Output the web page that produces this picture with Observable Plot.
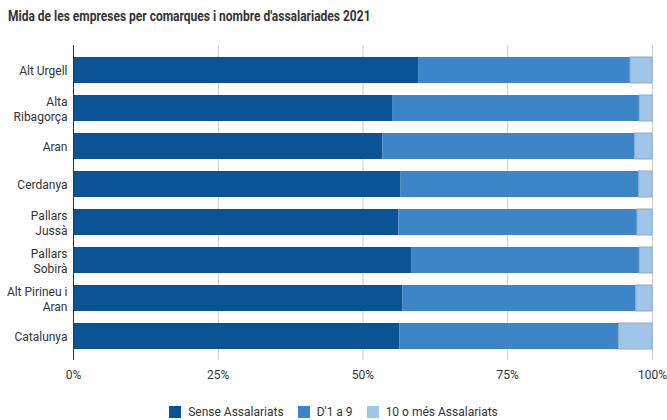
<!DOCTYPE html>
<html>
<head>
<meta charset="utf-8">
<script src="https://cdn.jsdelivr.net/npm/d3@7"></script>
<script src="https://cdn.jsdelivr.net/npm/@observablehq/plot@0.6"></script>
<style>
  body { margin: 0; background: #fff; font-family: Roboto, sans-serif; overflow: hidden; }
  #title { height: 36px; box-sizing: border-box; padding: 7px 0 0 8px; font-size: 15px; font-weight: bold; color: #333; white-space: nowrap; }
  #title span { display: inline-block; transform: scaleX(0.80); transform-origin: left center; }
  #chart svg { display: block; }
  #legend { display: flex; justify-content: center; align-items: center; font-size: 12px; line-height: 14px; color: #333; height: 18px; margin-top: 7px; }
  .item { display: flex; align-items: center; margin: 0 7px; }
  .sw { width: 12px; height: 12px; margin-right: 7px; }
</style>
</head>
<body>
<div id="title"><span>Mida de les empreses per comarques i nombre d'assalariades 2021</span></div>
<div id="chart"></div>
<div id="legend"></div>
<script>
const categories = ["Alt Urgell", "Alta Ribagorça", "Aran", "Cerdanya", "Pallars Jussà", "Pallars Sobirà", "Alt Pirineu i Aran", "Catalunya"];
const tickLabels = ["Alt Urgell", "Alta\nRibagorça", "Aran", "Cerdanya", "Pallars\nJussà", "Pallars\nSobirà", "Alt Pirineu i\nAran", "Catalunya"];
const series = ["Sense Assalariats", "D'1 a 9", "10 o més Assalariats"];
const senseAssalariats = [59.6, 55.1, 53.4, 56.5, 56.2, 58.4, 56.9, 56.4];
const d1a9 = [36.6, 42.7, 43.6, 41.2, 41.2, 39.4, 40.3, 37.8];
const deuOMes = [3.8, 2.2, 3.0, 2.3, 2.6, 2.2, 2.8, 5.8];
const colors = ["#0b5394", "#3d85c6", "#9fc5e8"];
const xTicks = [0, 0.25, 0.5, 0.75, 1];

const valuesBySeries = [senseAssalariats, d1a9, deuOMes];
const data = [];
series.forEach((s, si) => categories.forEach((c, ci) => data.push({cat: c, series: s, value: valuesBySeries[si][ci] / 100})));
const labelOf = new Map(categories.map((c, i) => [c, tickLabels[i]]));

const chart = Plot.plot({
  width: 667,
  height: 360,
  marginTop: 9,
  marginBottom: 36,
  marginLeft: 73,
  marginRight: 15,
  style: {fontFamily: "Roboto, sans-serif", fontSize: "12px", color: "#333"},
  x: {domain: [0, 1], ticks: xTicks, tickFormat: d => Math.round(d * 100) + "%", label: null},
  y: {domain: categories, paddingInner: 0.32, paddingOuter: 0.26, label: null},
  color: {domain: series, range: colors},
  marks: [
    Plot.ruleX(xTicks, {stroke: "#ccc", strokeWidth: 1}),
    Plot.barX(data, Plot.stackX({y: "cat", x: "value", fill: "series", z: "series", order: series})),
    Plot.barX(data, Plot.stackX({y: "cat", x: "value", z: "series", order: series, fill: "none", stroke: "#95a8bb",
      strokeOpacity: d => d.series === series[2] ? 1 : 0, strokeWidth: 1})),
    Plot.ruleX([0], {stroke: "#333", strokeWidth: 1}),
    Plot.axisX({ticks: xTicks, tickSize: 0, tickPadding: 10, tickFormat: d => Math.round(d * 100) + "%", fill: "#333", fontSize: 12}),
    Plot.axisY({tickSize: 0, tickPadding: 6, tickFormat: d => labelOf.get(d), lineHeight: 1.25, fill: "#333", fontSize: 12})
  ]
});
document.getElementById("chart").appendChild(chart);

const legend = document.getElementById("legend");
series.forEach((s, i) => {
  const it = document.createElement("div");
  it.className = "item";
  it.innerHTML = `<div class="sw" style="background:${colors[i]}"></div><span>${s}</span>`;
  legend.appendChild(it);
});
</script>
</body>
</html>
